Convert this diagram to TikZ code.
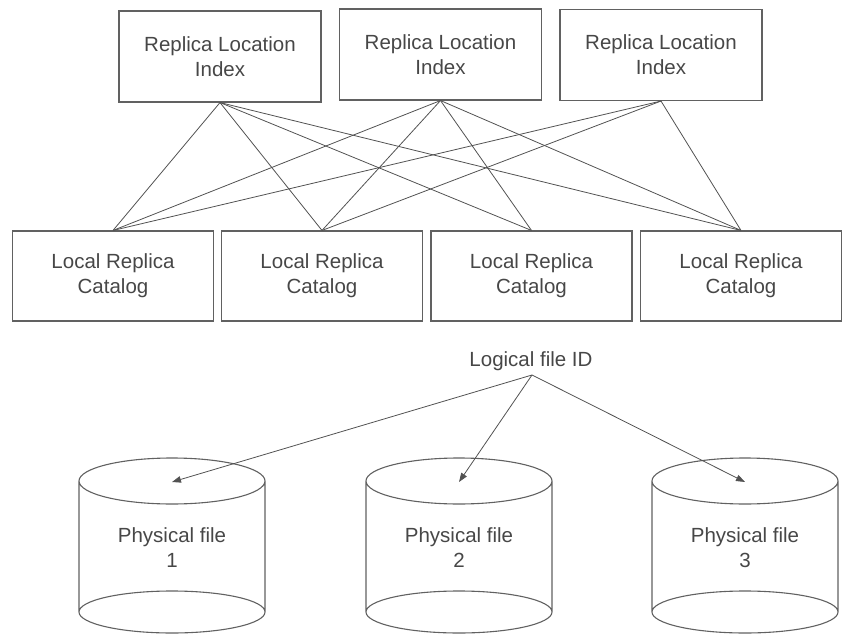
\documentclass[tikz,border=0pt]{standalone}
\usepackage{fontspec}
\setmainfont{Liberation Sans}
\usetikzlibrary{arrows.meta}
\tikzset{>={Triangle[length=9pt,width=6.5pt]}}

\begin{document}
\begin{tikzpicture}[x=1pt, y=-1pt,
    txt/.style={font=\fontsize{20.5}{25}\selectfont, text=black!72, align=center},
    rli/.style={txt, draw=black!62, line width=1.1pt, minimum width=202pt, minimum height=91pt},
    lrc/.style={txt, draw=black!62, line width=1.1pt, minimum width=201pt, minimum height=90pt},
    link/.style={draw=black!68, line width=0.8pt}]
    \useasboundingbox (0,0) rectangle (849,634);
    \node[rli] (R1) at (220,56.5) {Replica Location\\Index};
    \node[rli] (R2) at (440.5,54.5) {Replica Location\\Index};
    \node[rli] (R3) at (661,55) {Replica Location\\Index};
    \node[lrc] (L1) at (113,276) {Local Replica\\Catalog};
    \node[lrc] (L2) at (322,276) {Local Replica\\Catalog};
    \node[lrc] (L3) at (531.5,276) {Local Replica\\Catalog};
    \node[lrc] (L4) at (741,276) {Local Replica\\Catalog};
    \foreach \r/\l in {1/1, 1/2, 1/3, 1/4, 2/1, 2/2, 2/3, 2/4, 3/1, 3/2, 3/4}
        \draw[link] (R\r.south) -- (L\l.north);
    \node[txt] (lfid) at (531,361) {Logical file ID};
    \coordinate (lf) at (532,375);
    \foreach \i/\cx in {1/172, 2/459, 3/745} {
        \draw[draw=black!62, line width=1.1pt] (\cx,481) ellipse [x radius=93, y radius=23]
            (\cx,612) ellipse [x radius=93, y radius=21]
            (\cx-93,481) -- (\cx-93,612) (\cx+93,481) -- (\cx+93,612);
        \coordinate (top\i) at (\cx,482);
        \node[txt] (pf\i) at (\cx,548) {Physical file\\\i};
        \draw[link, ->] (lf) -- (top\i);
    }
\end{tikzpicture}
\end{document}
